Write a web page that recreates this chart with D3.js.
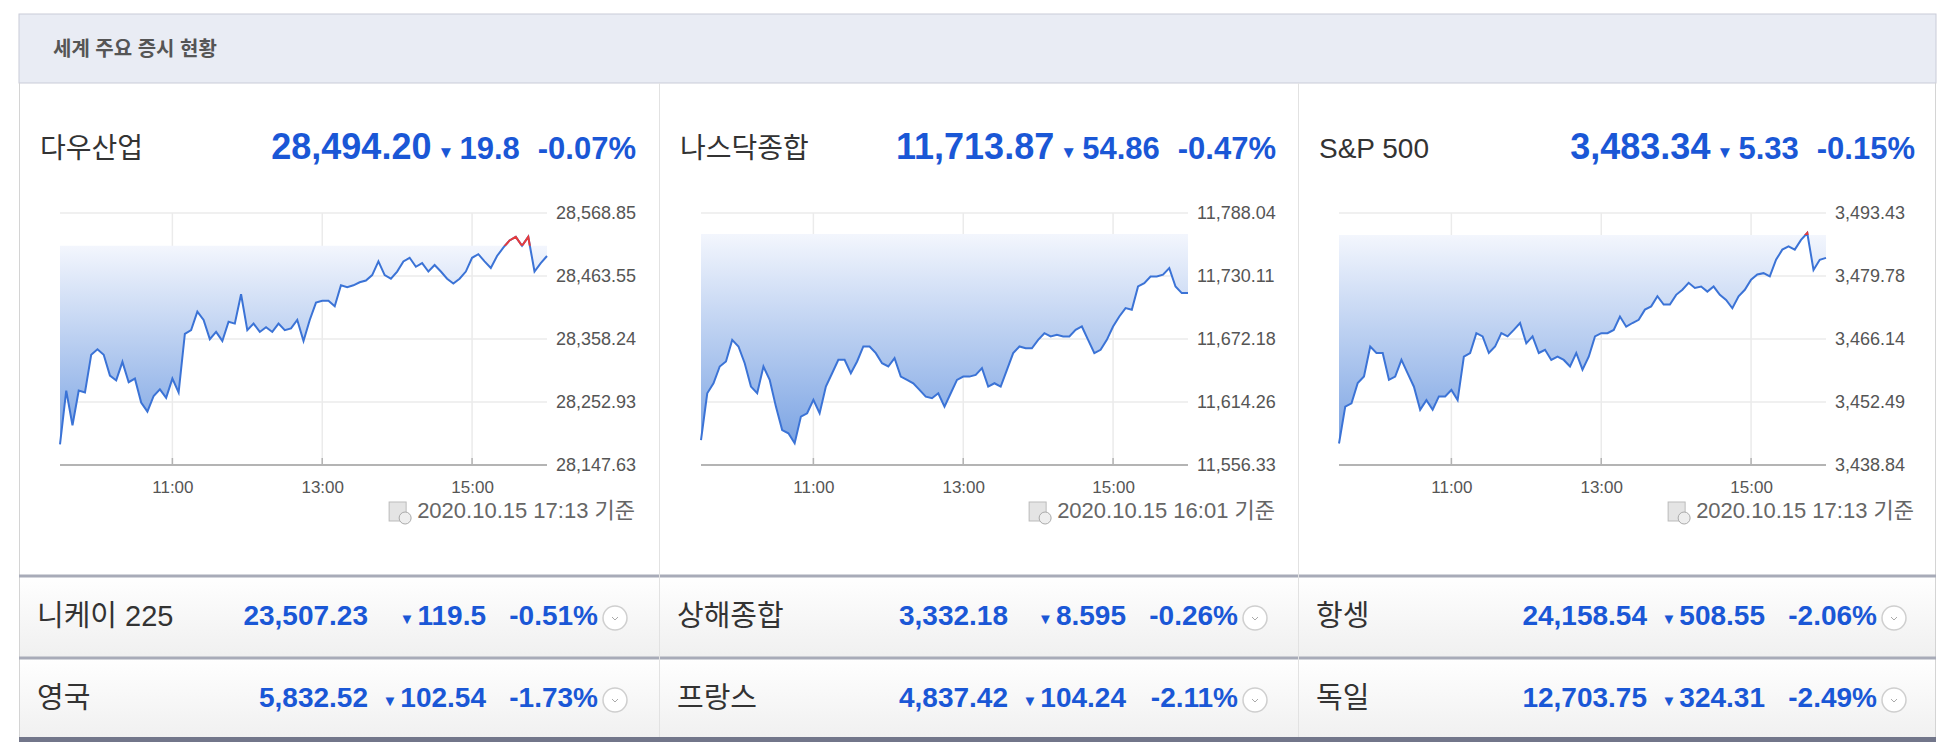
<!DOCTYPE html>
<html><head><meta charset="utf-8">
<script src="https://cdn.jsdelivr.net/npm/d3@7"></script>
<style>
body{margin:0;background:#fff;}
text{font-family:"Liberation Sans","Noto Sans CJK KR",sans-serif;}
</style></head>
<body><svg id="chart" width="1952" height="752"></svg>
<script>
// ---- data ----
const title = "세계 주요 증시 현황";
const mainNames = ["다우산업", "나스닥종합", "S&P 500"];
const mainValues = ["28,494.20", "11,713.87", "3,483.34"];
const mainChanges = ["19.8", "54.86", "5.33"];
const mainPercents = ["-0.07%", "-0.47%", "-0.15%"];
const prevCloses = [28514.0, 11768.73, 3488.67];
const stamps = ["2020.10.15 17:13 기준", "2020.10.15 16:01 기준", "2020.10.15 17:13 기준"];
const yTicks = [
  ["28,147.63", "28,252.93", "28,358.24", "28,463.55", "28,568.85"],
  ["11,556.33", "11,614.26", "11,672.18", "11,730.11", "11,788.04"],
  ["3,438.84", "3,452.49", "3,466.14", "3,479.78", "3,493.43"]
];
const xTickLabels = ["11:00", "13:00", "15:00"];
// 5-minute values from 09:30 to 16:00
const dowSeries = [28182,28272,28214,28272,28269,28332,28341,28332,28297,28289,28320,28286,28292,28252,28237,28263,28274,28260,28292,28269,
  28367,28373,28404,28390,28358,28370,28355,28387,28384,28433,28373,28384,28370,28378,28370,28384,28373,28376,28390,28355,
  28390,28419,28422,28422,28413,28448,28445,28448,28453,28456,28465,28488,28465,28459,28471,28488,28494,28479,28485,28471,
  28482,28471,28459,28451,28459,28471,28494,28500,28488,28477,28497,28511,28523,28529,28514,28529,28471,28485,28497];
const nasdaqSeries = [11579.3,11622.3,11631.5,11646.9,11651.5,11671.4,11665.3,11649.9,11628.4,11622.3,11646.9,11634.6,11610,11588.5,11585.5,11576.3,11600.8,11603.9,11616.2,11603.9,
  11628.4,11640.7,11653,11653,11640.7,11651.5,11665.3,11665.3,11659.2,11649.9,11646.9,11654.6,11637.6,11634.6,11631.5,11625.4,11619.2,11617.7,11622.3,11610,
  11622.3,11634.6,11637.6,11637.6,11639.1,11645.4,11628.4,11631.5,11628.4,11643.8,11659.2,11665.3,11663.7,11663.7,11671.4,11677.5,11674.5,11676,11674.5,11674.5,
  11680.6,11683.7,11671.4,11659.2,11662.2,11671.4,11683.7,11692.9,11700.6,11699.1,11720.5,11723.6,11729.7,11729.7,11731.3,11737.4,11720.5,11714.4,11714.4];
const spSeries = [3443.5,3451.5,3452.2,3456.6,3458,3464.5,3463.1,3463.1,3457.3,3458,3461.6,3458.7,3455.8,3450.8,3452.9,3450.8,3453.7,3453.7,3455.1,3452.9,
  3462.3,3463.1,3467.4,3466.7,3463.1,3464.5,3467.4,3466.7,3468.1,3469.6,3465.2,3466.7,3463.1,3463.8,3461.6,3462.3,3461.6,3460.2,3463.1,3459.5,
  3462.3,3466.7,3467.4,3467.4,3468.1,3471,3468.8,3469.6,3470.3,3472.5,3473.2,3475.4,3473.6,3473.6,3475.7,3476.8,3478.3,3477.2,3477.5,3476.4,
  3477.5,3475.7,3474.6,3472.8,3475.4,3476.8,3479,3480.1,3480.4,3479.7,3483.3,3485.5,3486.2,3485.5,3487.6,3489.1,3481.1,3483.3,3483.7];
const allSeries = [dowSeries, nasdaqSeries, spSeries];

const subNames = [["니케이 225", "상해종합", "항셍"], ["영국", "프랑스", "독일"]];
const subValues = [["23,507.23", "3,332.18", "24,158.54"], ["5,832.52", "4,837.42", "12,703.75"]];
const subChanges = [["119.5", "8.595", "508.55"], ["102.54", "104.24", "324.31"]];
const subPercents = [["-0.51%", "-0.26%", "-2.06%"], ["-1.73%", "-2.11%", "-2.49%"]];

// ---- layout ----
const svg = d3.select("#chart");
const colX = [19, 659, 1298];
const blue = "#1a57d6";
const defs = svg.append("defs");

const rowGrad = defs.append("linearGradient").attr("id", "rowGrad").attr("x1", 0).attr("x2", 0).attr("y1", 0).attr("y2", 1);
rowGrad.append("stop").attr("offset", 0).attr("stop-color", "#ffffff");
rowGrad.append("stop").attr("offset", 1).attr("stop-color", "#f0f0f0");

// header
svg.append("rect").attr("x", 19).attr("y", 14).attr("width", 1917).attr("height", 69)
  .attr("fill", "#e9ecf4").attr("stroke", "#c9ccd8");
svg.append("text").attr("x", 53).attr("y", 56).attr("font-size", 20).attr("fill", "#555")
  .attr("font-weight", "bold").text(title);
svg.append("line").attr("x1", 19.5).attr("x2", 19.5).attr("y1", 83).attr("y2", 740).attr("stroke", "#d4d4d4");
svg.append("line").attr("x1", 1935.5).attr("x2", 1935.5).attr("y1", 83).attr("y2", 740).attr("stroke", "#d4d4d4");

// sub rows
[575, 657].forEach((ry, r) => {
  svg.append("rect").attr("x", 20).attr("y", ry).attr("width", 1915).attr("height", 82).attr("fill", "url(#rowGrad)");
  svg.append("line").attr("x1", 19).attr("x2", 1936).attr("y1", ry + 1).attr("y2", ry + 1)
    .attr("stroke", "#a8abb8").attr("stroke-width", 3);
  colX.forEach((cx, i) => {
    const cy = ry + 43;
    svg.append("text").attr("x", cx + 18).attr("y", cy).attr("dominant-baseline", "middle")
      .attr("font-size", 29).attr("fill", "#333").text(subNames[r][i]);
    svg.append("text").attr("x", cx + 349).attr("y", cy).attr("dominant-baseline", "middle").attr("text-anchor", "end")
      .attr("font-size", 28).attr("font-weight", "bold").attr("fill", blue).text(subValues[r][i]);
    const ch = svg.append("text").attr("x", cx + 467).attr("y", cy).attr("dominant-baseline", "middle").attr("text-anchor", "end")
      .attr("font-size", 28).attr("font-weight", "bold").attr("fill", blue).text(subChanges[r][i]);
    const chW = ch.node().getComputedTextLength();
    svg.append("text").attr("x", cx + 467 - chW - 3).attr("y", cy + 2).attr("dominant-baseline", "middle").attr("text-anchor", "end")
      .attr("font-size", 15).attr("fill", blue).text("▼");
    svg.append("text").attr("x", cx + 579).attr("y", cy).attr("dominant-baseline", "middle").attr("text-anchor", "end")
      .attr("font-size", 28).attr("font-weight", "bold").attr("fill", blue).text(subPercents[r][i]);
    svg.append("circle").attr("cx", cx + 596).attr("cy", cy).attr("r", 12).attr("fill", "#fff").attr("stroke", "#cfcfcf").attr("stroke-width", 1.5);
    svg.append("path").attr("d", `M${cx + 593},${cy - 1}l3,3l3,-3`).attr("fill", "none").attr("stroke", "#aaa");
  });
});
svg.append("rect").attr("x", 19).attr("y", 737).attr("width", 1917).attr("height", 5).attr("fill", "#72768a");
[659, 1298].forEach(x => svg.append("line").attr("x1", x + 0.5).attr("x2", x + 0.5).attr("y1", 83).attr("y2", 737).attr("stroke", "#e2e2e2"));

// main charts
const plotL = [60, 701, 1339];
const plotW = 487;
const plotTop = 213, plotBottom = 465;
const t0 = new Date(2020, 9, 15, 9, 30);

colX.forEach((cx, i) => {
  const cy = 151;
  svg.append("text").attr("x", cx + 21).attr("y", cy).attr("dominant-baseline", "middle")
    .attr("font-size", 28).attr("fill", "#333").text(mainNames[i]);
  const pc = svg.append("text").attr("x", cx + 617).attr("y", cy).attr("dominant-baseline", "middle").attr("text-anchor", "end")
    .attr("font-size", 31).attr("font-weight", "bold").attr("fill", blue).text(mainPercents[i]);
  const pcStart = cx + 617 - pc.node().getComputedTextLength();
  const ch = svg.append("text").attr("x", pcStart - 18).attr("y", cy).attr("dominant-baseline", "middle").attr("text-anchor", "end")
    .attr("font-size", 31).attr("font-weight", "bold").attr("fill", blue).text(mainChanges[i]);
  const chStart = pcStart - 18 - ch.node().getComputedTextLength();
  svg.append("text").attr("x", chStart - 5).attr("y", cy + 3).attr("dominant-baseline", "middle").attr("text-anchor", "end")
    .attr("font-size", 17).attr("fill", blue).text("▼");
  svg.append("text").attr("x", chStart - 28).attr("y", cy - 2).attr("dominant-baseline", "middle").attr("text-anchor", "end")
    .attr("font-size", 36).attr("font-weight", "bold").attr("fill", blue).text(mainValues[i]);

  const data = allSeries[i].map((v, k) => ({ date: new Date(t0.getTime() + k * 5 * 60000), value: v }));
  const tickVals = yTicks[i].map(s => +s.replace(/,/g, ""));
  const x = d3.scaleTime().domain([t0, new Date(2020, 9, 15, 16, 0)]).range([plotL[i], plotL[i] + plotW]);
  const y = d3.scaleLinear().domain([tickVals[0], tickVals[4]]).range([plotBottom, plotTop]);
  const g = svg.append("g");

  // grid
  g.append("g").selectAll("line").data(tickVals).join("line")
    .attr("x1", plotL[i]).attr("x2", plotL[i] + plotW).attr("y1", d => y(d)).attr("y2", d => y(d))
    .attr("stroke", "#ebebeb").attr("stroke-width", 1.5);
  const xTicks = [11, 13, 15].map(h => new Date(2020, 9, 15, h, 0));
  g.append("g").selectAll("line").data(xTicks).join("line")
    .attr("x1", d => x(d)).attr("x2", d => x(d)).attr("y1", plotTop).attr("y2", plotBottom)
    .attr("stroke", "#ebebeb").attr("stroke-width", 1.5);

  // area
  const gid = "ag" + i;
  const grad = defs.append("linearGradient").attr("id", gid).attr("gradientUnits", "userSpaceOnUse")
    .attr("x1", 0).attr("x2", 0).attr("y1", y(prevCloses[i])).attr("y2", plotBottom - 10);
  grad.append("stop").attr("offset", 0).attr("stop-color", "#f3f6fd");
  grad.append("stop").attr("offset", 1).attr("stop-color", "#76a0e2");
  const area = d3.area().x(d => x(d.date)).y0(y(prevCloses[i])).y1(d => Math.max(y(d.value), y(prevCloses[i])));
  g.append("path").datum(data).attr("d", area).attr("fill", `url(#${gid})`);

  const line = d3.line().x(d => x(d.date)).y(d => y(d.value));
  g.append("path").datum(data).attr("d", line).attr("fill", "none").attr("stroke", "#3b73d6").attr("stroke-width", 2);
  const cid = "clip" + i;
  defs.append("clipPath").attr("id", cid).append("rect")
    .attr("x", plotL[i] - 2).attr("y", plotTop - 20).attr("width", plotW + 4).attr("height", y(prevCloses[i]) - plotTop + 20);
  g.append("path").datum(data).attr("d", line).attr("fill", "none").attr("stroke", "#e83b3b").attr("stroke-width", 2)
    .attr("clip-path", `url(#${cid})`);

  // axes
  g.append("line").attr("x1", plotL[i]).attr("x2", plotL[i] + plotW).attr("y1", plotBottom).attr("y2", plotBottom)
    .attr("stroke", "#b4b4b4").attr("stroke-width", 2);
  const xa = g.append("g").attr("transform", `translate(0,${plotBottom})`)
    .call(d3.axisBottom(x).tickValues(xTicks).tickSize(0).tickPadding(16).tickFormat((d, k) => xTickLabels[k]));
  xa.select(".domain").remove();
  xa.selectAll("text").attr("font-size", 17).attr("fill", "#555").attr("font-family", "Liberation Sans");
  g.selectAll(".xt").data(xTicks).join("line").attr("x1", d => x(d)).attr("x2", d => x(d))
    .attr("y1", plotBottom - 7).attr("y2", plotBottom).attr("stroke", "#b4b4b4").attr("stroke-width", 1.5);
  const ya = g.append("g").attr("transform", `translate(${plotL[i] + plotW},0)`)
    .call(d3.axisRight(y).tickValues(tickVals).tickSize(0).tickPadding(9).tickFormat((d, k) => yTicks[i][k]));
  ya.select(".domain").remove();
  ya.selectAll("text").attr("font-size", 18).attr("fill", "#555").attr("font-family", "Liberation Sans");

  // timestamp
  const st = svg.append("text").attr("x", cx + 616).attr("y", 512).attr("dominant-baseline", "middle").attr("text-anchor", "end")
    .attr("font-size", 22).attr("fill", "#666").text(stamps[i]);
  const sx = cx + 616 - st.node().getComputedTextLength() - 28;
  svg.append("rect").attr("x", sx).attr("y", 502).attr("width", 17).attr("height", 19).attr("fill", "#e4e4e4").attr("stroke", "#bbb");
  svg.append("circle").attr("cx", sx + 16).attr("cy", 518).attr("r", 6).attr("fill", "#eee").attr("stroke", "#aaa");
});
</script></body></html>
